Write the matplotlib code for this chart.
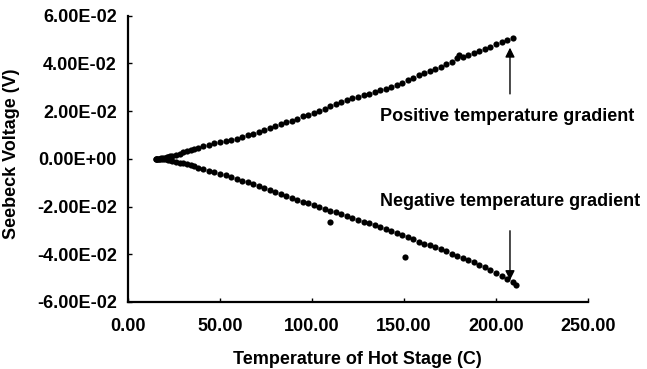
import matplotlib
matplotlib.use("Agg")
import matplotlib.pyplot as plt
from matplotlib.ticker import FormatStrFormatter

plt.rcParams['font.family'] = ['Liberation Sans', 'DejaVu Sans']
plt.rcParams['font.weight'] = 'bold'

# positive temperature gradient branch (temperature C, voltage V)
pos_t = [15, 16, 17, 18, 19, 20, 21, 22, 23, 24, 26, 28, 30, 32, 34, 36, 38,
         41, 44, 47, 50, 53, 56, 59, 62, 65, 68, 71, 74, 77, 80, 83, 86, 89,
         92, 95, 98, 101, 104, 107, 110, 113, 116, 119, 122, 125, 128, 131,
         134, 137, 140, 143, 146, 149, 152, 155, 158, 161, 164, 167, 170, 173,
         176, 179, 180, 182, 185, 188, 191, 194, 197, 200, 203, 206, 209]
pos_v = [0.0000, 0.0001, 0.0000, 0.0002, 0.0003, 0.0004, 0.0006, 0.0008,
         0.0010, 0.0012, 0.0016, 0.0021, 0.0027, 0.0033, 0.0038, 0.0042,
         0.0047, 0.0052, 0.0058, 0.0064, 0.0069, 0.0073, 0.0078, 0.0083,
         0.0090, 0.0098, 0.0105, 0.0113, 0.0120, 0.0129, 0.0138, 0.0146,
         0.0153, 0.0160, 0.0168, 0.0177, 0.0185, 0.0193, 0.0202, 0.0210,
         0.0220, 0.0230, 0.0238, 0.0246, 0.0253, 0.0260, 0.0267, 0.0273,
         0.0280, 0.0287, 0.0294, 0.0302, 0.0310, 0.0319, 0.0330, 0.0340,
         0.0350, 0.0359, 0.0368, 0.0376, 0.0385, 0.0395, 0.0405, 0.0420,
         0.0436, 0.0425, 0.0433, 0.0441, 0.0450, 0.0460, 0.0470, 0.0479,
         0.0489, 0.0498, 0.0506]

# negative temperature gradient branch
neg_t = [15, 16, 17, 18, 19, 20, 21, 22, 23, 24, 26, 28, 30, 32, 34, 36, 38,
         41, 44, 47, 50, 53, 56, 59, 62, 65, 68, 71, 74, 77, 80, 83, 86, 89,
         92, 95, 98, 101, 104, 107, 110, 110, 113, 116, 119, 122, 125, 128,
         131, 134, 137, 140, 143, 146, 149, 150.5, 152, 155, 158, 161, 164,
         167, 170, 173, 176, 179, 182, 185, 188, 191, 194, 197, 200, 203, 206,
         209, 211]
neg_v = [0.0000, -0.0001, 0.0001, -0.0001, 0.0000, -0.0002, -0.0003, -0.0005,
         -0.0006, -0.0008, -0.0012, -0.0016, -0.0019, -0.0022, -0.0026,
         -0.0031, -0.0037, -0.0043, -0.0050, -0.0057, -0.0062, -0.0068,
         -0.0076, -0.0084, -0.0092, -0.0099, -0.0107, -0.0115, -0.0122,
         -0.0130, -0.0139, -0.0149, -0.0157, -0.0165, -0.0172, -0.0180,
         -0.0187, -0.0194, -0.0202, -0.0210, -0.0218, -0.0263, -0.0225,
         -0.0232, -0.0240, -0.0248, -0.0256, -0.0263, -0.0270, -0.0278,
         -0.0286, -0.0294, -0.0302, -0.0311, -0.0320, -0.0410, -0.0329,
         -0.0338, -0.0347, -0.0355, -0.0363, -0.0371, -0.0380, -0.0388,
         -0.0397, -0.0406, -0.0415, -0.0424, -0.0434, -0.0444, -0.0455,
         -0.0466, -0.0477, -0.0490, -0.0503, -0.0515, -0.0528]

x_ticks = [0, 50, 100, 150, 200, 250]
y_ticks = [-0.06, -0.04, -0.02, 0.0, 0.02, 0.04, 0.06]

fig = plt.figure(figsize=(6.47, 3.69), dpi=100)
ax = fig.add_axes([128/647, 1-302/369, 460/647, 286.5/369])

ax.scatter(pos_t, pos_v, s=20, color='black', linewidths=0)
ax.scatter(neg_t, neg_v, s=20, color='black', linewidths=0)

ax.set_xlim(0, 250)
ax.set_ylim(-0.06, 0.06)
ax.set_xticks(x_ticks)
ax.set_yticks(y_ticks)
ax.xaxis.set_major_formatter(FormatStrFormatter('%.2f'))
ax.yaxis.set_major_formatter(FormatStrFormatter('%.2E'))
ax.tick_params(axis='both', direction='in', length=3, width=1, labelsize=13)
ax.tick_params(axis='y', pad=8)
ax.tick_params(axis='x', pad=11.5)
for s in ['top', 'right']:
    ax.spines[s].set_visible(False)
for s in ['left', 'bottom']:
    ax.spines[s].set_linewidth(1.6)

# arrows and annotations
ax.annotate('', xy=(207.6, 0.0477), xytext=(207.6, 0.026),
            arrowprops=dict(arrowstyle='-|>', color='black', lw=1, mutation_scale=14))
ax.annotate('', xy=(207.6, -0.052), xytext=(207.6, -0.029),
            arrowprops=dict(arrowstyle='-|>', color='black', lw=1, mutation_scale=14))
ax.text(137, 0.0175, 'Positive temperature gradient', fontsize=13,
        fontweight='bold', va='center', ha='left', clip_on=False)
ax.text(137, -0.018, 'Negative temperature gradient', fontsize=13,
        fontweight='bold', va='center', ha='left', clip_on=False)

fig.text(357/647, 1-359/369, 'Temperature of Hot Stage (C)', fontsize=13,
         fontweight='bold', ha='center', va='center')
fig.text(12/647, 1-154/369, 'Seebeck Voltage (V)', fontsize=13,
         fontweight='bold', ha='center', va='center', rotation=90)

fig.savefig('out.png', dpi=100)
